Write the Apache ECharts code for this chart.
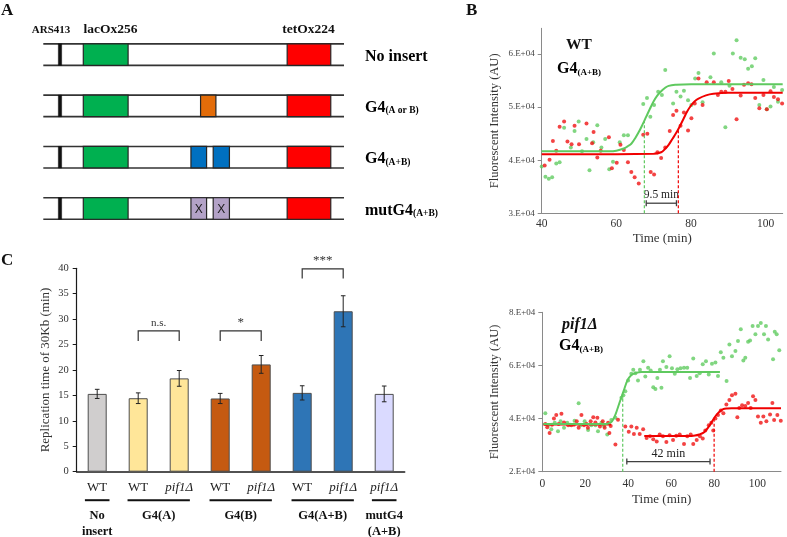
<!DOCTYPE html>
<html>
<head>
<meta charset="utf-8">
<script src="https://cdn.jsdelivr.net/npm/echarts@6.0.0/dist/echarts.min.js"></script>
<style>
html,body{margin:0;padding:0;background:#ffffff;}
#chart{width:787px;height:537px;}
</style>
</head>
<body>
<div id="chart"></div>
<script>
// ================= DATA =================
// Panel A: construct schematic
const constructLabelMain = ['No insert', 'G4', 'G4', 'mutG4'];
const constructLabelSub = ['', '(A or B)', '(A+B)', '(A+B)'];
const constructFeatureNames = ['ARS413', 'lacOx256', 'tetOx224'];
// [row, start (% of line), end (% of line), kind]
const constructElements = [
  [0, 5.0, 6.1, 'ars'], [0, 13.3, 28.2, 'lac'], [0, 81.1, 95.6, 'tet'],
  [1, 5.0, 6.1, 'ars'], [1, 13.3, 28.2, 'lac'], [1, 52.3, 57.4, 'g4'], [1, 81.1, 95.6, 'tet'],
  [2, 5.0, 6.1, 'ars'], [2, 13.3, 28.2, 'lac'], [2, 49.1, 54.3, 'g4ab'], [2, 56.5, 61.9, 'g4ab'], [2, 81.1, 95.6, 'tet'],
  [3, 5.0, 6.1, 'ars'], [3, 13.3, 28.2, 'lac'], [3, 49.1, 54.3, 'mut'], [3, 56.5, 61.9, 'mut'], [3, 81.1, 95.6, 'tet']
];

// Panel C: replication time bars
const barCategories = ['WT', 'WT', 'pif1Δ', 'WT', 'pif1Δ', 'WT', 'pif1Δ', 'pif1Δ'];
const replicationTime = [15.3, 14.45, 18.35, 14.4, 21.1, 15.5, 31.55, 15.3];
const replicationErr = [0.9, 1.05, 1.55, 1.0, 1.75, 1.4, 3.05, 1.55];
// [first bar, last bar, line 1, line 2]
const barGroups = [[0, 0, 'No', 'insert'], [1, 2, 'G4(A)', ''], [3, 4, 'G4(B)', ''], [5, 6, 'G4(A+B)', ''], [7, 7, 'mutG4', '(A+B)']];
// [bar a, bar b, leg bottom, bracket top, label]
const sigTests = [[1, 2, 25.7, 27.7, 'n.s.'], [3, 4, 25.7, 27.7, '*'], [5, 6, 38.0, 39.9, '***']];
const cTicks = [0, 5, 10, 15, 20, 25, 30, 35, 40];

// Panel B (top): WT G4(A+B), time (min) vs fluorescence (AU)
const wtGreenPts = [[40.0,38800],[41.0,36900],[41.9,36500],[42.8,36800],[43.9,39400],[44.8,39600],[46.0,46100],[47.8,42400],[48.8,45500],[49.9,47300],[50.8,41700],[52.0,44000],[52.8,38100],[53.8,43400],[54.9,46600],[56.0,42400],[57.0,44000],[58.1,38300],[59.1,39700],[60.9,43400],[62.0,44700],[63.1,44700],[67.2,50600],[68.2,51700],[69.1,48200],[70.1,50400],[71.2,52900],[72.2,52300],[73.1,57000],[75.2,50700],[76.1,52900],[77.2,52000],[78.1,53100],[79.2,51300],[80.1,50400],[81.1,55400],[82.0,56400],[83.1,50900],[85.2,55600],[86.1,60100],[88.1,54700],[89.2,46200],[90.3,54000],[91.2,60100],[92.2,62600],[93.3,59300],[94.4,59000],[95.3,57200],[96.3,57700],[97.2,59200],[98.3,50400],[99.4,55100],[100.3,49600],[101.3,50100],[102.2,53800],[103.3,51000],[104.4,53200]];
const wtRedPts = [[40.8,39000],[42.1,40100],[43.0,43600],[43.9,41800],[44.8,46300],[46.0,47300],[46.9,43500],[48.0,43000],[48.8,46500],[50.0,43000],[52.0,46900],[53.5,43200],[53.9,45300],[54.9,40500],[55.8,41800],[58.0,44300],[58.8,38500],[60.1,39500],[61.1,42900],[62.0,41900],[63.1,39600],[64.0,37800],[64.9,36800],[66.0,35600],[67.2,44800],[68.3,45000],[69.2,37800],[70.1,37300],[71.0,41500],[72.0,40400],[73.1,42400],[74.3,45500],[75.2,48500],[76.1,49300],[77.2,46500],[78.1,49000],[79.2,45600],[80.1,47900],[81.0,50700],[82.0,55400],[83.1,50400],[84.2,54700],[86.1,54700],[87.2,52300],[88.1,52900],[89.2,52900],[90.1,54900],[91.1,53400],[92.2,47700],[93.3,52200],[94.2,54200],[95.3,54500],[96.2,54300],[97.2,51700],[98.3,49800],[99.4,52300],[100.3,49600],[101.3,53000],[102.2,51900],[103.3,51500],[104.4,50700]];
const wtGreenFit = [[40,41700],[58,41700],[60,41800],[62,42200],[63,42600],[64,43100],[65,44100],[66,45300],[67,46700],[68,48200],[69,49700],[70,51100],[71,52200],[72,53000],[73,53600],[74,54000],[76,54200],[80,54300],[104.56,54300]];
const wtRedFit = [[40,41100],[70,41200],[72,41500],[73,42100],[74,42900],[75,44000],[76,45100],[77,46400],[78,47800],[79,49200],[80,50300],[81,51100],[82,51600],[84,52200],[86,52500],[90,52700],[104.56,52700]];
const wtOnsetTimes = [67.5, 76.6];
const wtOnsetLevels = [47200, 45700];
const wtDelay = [[68.0, 31900, 76.1]];
const wtDelayLabel = '9.5 min';

// Panel B (bottom): pif1Δ G4(A+B)
const pifGreenPts = [[1.4,42000],[2.7,37500],[4.2,36000],[5.8,38400],[7.3,35200],[8.5,39000],[10.1,36500],[11.6,38400],[12.9,37700],[15.0,39200],[16.9,45800],[17.8,37500],[19.7,39000],[21.3,35700],[22.8,37500],[24.7,37500],[25.9,35200],[27.5,38400],[28.7,37200],[30.2,34000],[32.1,39500],[34.0,40300],[36.8,47800],[37.7,48800],[38.6,50300],[39.9,54300],[41.4,56900],[42.3,58400],[43.3,57100],[44.5,54300],[45.4,58400],[47.0,61600],[47.9,55800],[49.2,59100],[50.4,58100],[51.6,51800],[52.6,51100],[53.5,55300],[54.7,58400],[55.4,51600],[56.1,61600],[57.7,59400],[59.2,63500],[60.3,58900],[61.6,56900],[62.8,58600],[64.3,58900],[65.9,59100],[67.4,59100],[68.7,55300],[70.2,62600],[71.8,56000],[73.2,57100],[74.6,60400],[76.1,61600],[77.4,56600],[78.9,60600],[80.5,61100],[81.7,56000],[83.0,65000],[84.2,62900],[85.7,54100],[87.0,67900],[88.2,63500],[89.8,65400],[91.0,69200],[92.3,73600],[93.5,61900],[94.4,62900],[95.7,68900],[96.6,69400],[97.8,74800],[99.1,71700],[100.3,74800],[101.6,76000],[103.1,71700],[104.0,74800],[105.0,69800],[107.3,62300],[108.1,72700],[109.0,71700],[110.2,65700]];
const pifRedPts = [[1.4,38000],[2.3,36700],[3.4,34600],[4.5,37700],[5.4,40000],[6.5,41300],[7.6,38000],[8.9,41800],[10.1,38500],[12.0,37500],[13.5,37500],[14.7,37700],[16.0,39000],[16.9,36500],[18.2,41300],[19.4,37500],[20.6,38000],[21.2,36500],[22.5,39000],[23.7,40500],[24.7,38500],[25.6,40300],[26.8,37000],[28.1,39000],[29.0,36500],[30.6,38400],[31.2,34600],[31.8,37200],[34.0,30200],[35.2,39600],[38.6,37000],[40.2,35000],[41.4,37000],[42.6,34200],[43.9,36500],[45.3,34200],[46.9,36000],[48.5,32700],[50.1,33300],[51.6,32200],[53.2,31400],[54.6,34000],[56.1,33300],[57.7,31200],[59.2,33700],[60.8,31900],[62.3,33500],[63.9,34000],[65.9,30400],[67.4,33300],[69.0,34000],[70.2,30400],[71.8,31900],[73.3,33300],[74.6,32500],[75.8,35500],[77.4,37500],[78.6,38400],[79.5,35500],[80.5,40000],[81.7,41300],[83.0,43000],[84.2,42000],[85.6,45300],[87.0,47000],[88.2,48800],[89.8,49300],[90.7,40500],[91.6,44000],[92.9,45000],[94.4,44700],[95.7,45900],[96.9,44000],[98.0,48400],[99.1,47000],[100.3,40800],[101.6,38400],[102.8,40800],[104.2,39000],[105.9,41500],[107.0,45900],[107.8,39500],[109.3,41300],[110.9,39200]];
const pifGreenFit = [[0.5,38000],[30,38000],[32,38600],[33,39800],[34,41500],[35,43800],[36,46200],[37,48500],[38,50800],[39,53200],[40,55000],[41,56000],[42,56700],[44,57300],[46,57500],[82.6,57500]];
const pifRedFitEarly = [[0.5,37800],[32,37800]];
const pifRedFitLate = [[47.4,33400],[68,33400],[71,33600],[73,34000],[75,34700],[76,35500],[77,36500],[78,37700],[79,39000],[80,40300],[81,41400],[82,42300],[83,43000],[84,43500],[86,43800],[88,43900],[111,43900]];
const pifOnsetTimes = [37.4, 79.9];
const pifOnsetLevels = [49200, 40200];
const pifDelay = [[39.3, 23800, 78.0]];
const pifDelayLabel = '42 min';

// ================= STYLE =================
const SERIF = '"Liberation Serif", "Times New Roman", serif';
const featureColors = { ars: '#111111', lac: '#00b050', tet: '#ff0000', g4: '#e36c09', g4ab: '#0070c0', mut: '#b3a2c7' };
const barColors = ['#d0cece', '#ffe699', '#ffe699', '#c55a11', '#c55a11', '#2e75b6', '#2e75b6', '#dadaff'];
const GREEN_PT = '#62cc62', RED_PT = '#f01414', GREEN_LN = '#5fc95f', RED_LN = '#f00000';
const fmtE = v => Math.round(v / 1e4) + '.E+04';
const subRich = (mainSize, subSize) => ({
  m: { fontFamily: SERIF, fontWeight: 'bold', fontSize: mainSize, color: '#111', lineHeight: 20, verticalAlign: 'bottom' },
  s: { fontFamily: SERIF, fontWeight: 'bold', fontSize: subSize, color: '#111', lineHeight: 8, verticalAlign: 'bottom' }
});

const chart = echarts.init(document.getElementById('chart'), null, { renderer: 'canvas' });

function bracketItem(params, api, label, fontSize) {
  const a = api.coord([api.value(0), api.value(1)]);
  const b = api.coord([api.value(2), api.value(1)]);
  return { type: 'group', children: [
    { type: 'line', shape: { x1: a[0], y1: a[1], x2: b[0], y2: b[1] }, style: { stroke: '#404040', lineWidth: 1.3 } },
    { type: 'line', shape: { x1: a[0], y1: a[1] - 3, x2: a[0], y2: a[1] + 3 }, style: { stroke: '#404040', lineWidth: 1.3 } },
    { type: 'line', shape: { x1: b[0], y1: b[1] - 3, x2: b[0], y2: b[1] + 3 }, style: { stroke: '#404040', lineWidth: 1.3 } },
    { type: 'text', style: { text: label, x: (a[0] + b[0]) / 2, y: a[1] - 2, align: 'center', verticalAlign: 'bottom', font: fontSize + 'px ' + SERIF, fill: '#222' } }
  ] };
}

const bAxisLine = { show: true, lineStyle: { color: '#8a8a8a', width: 1 } };

const option = {
  animation: false,
  backgroundColor: '#ffffff',
  grid: [
    { left: 43.3, top: 28.95, width: 300.7, height: 205.2 },
    { left: 76.7, top: 268.3, width: 328, height: 203.4 },
    { left: 541.7, top: 28.3, width: 241, height: 185 },
    { left: 542.3, top: 312.3, width: 238.7, height: 159.4 }
  ],
  xAxis: [
    { gridIndex: 0, type: 'value', min: 0, max: 100, show: false },
    { gridIndex: 1, type: 'category', data: barCategories,
      axisLine: { show: true, lineStyle: { color: '#1a1a1a', width: 1.5 } },
      axisTick: { show: false },
      axisLabel: { interval: 0, margin: 9, fontFamily: SERIF, fontSize: 13, color: '#222',
        formatter: v => v === 'WT' ? v : '{i|' + v + '}',
        rich: { i: { fontFamily: SERIF, fontSize: 13, fontStyle: 'italic', color: '#222' } } } },
    { gridIndex: 2, type: 'value', min: 40, max: 104.56, interval: 20,
      axisLine: bAxisLine, axisTick: { show: false }, splitLine: { show: false },
      axisLabel: { margin: 5, fontFamily: SERIF, fontSize: 11.5, color: '#333', customValues: [40, 60, 80, 100] },
      name: 'Time (min)', nameLocation: 'middle', nameGap: 19,
      nameTextStyle: { fontFamily: SERIF, fontSize: 13, color: '#333' } },
    { gridIndex: 3, type: 'value', min: 0, max: 111, interval: 20,
      axisLine: bAxisLine, axisTick: { show: false }, splitLine: { show: false },
      axisLabel: { margin: 6, fontFamily: SERIF, fontSize: 11.5, color: '#333', customValues: [0, 20, 40, 60, 80, 100] },
      name: 'Time (min)', nameLocation: 'middle', nameGap: 21,
      nameTextStyle: { fontFamily: SERIF, fontSize: 13, color: '#333' } }
  ],
  yAxis: [
    { gridIndex: 0, type: 'value', min: -0.5, max: 3.5, inverse: true, show: false },
    { gridIndex: 1, type: 'value', min: 0, max: 40, interval: 5,
      axisLine: { show: true, lineStyle: { color: '#1a1a1a', width: 1.2 } },
      axisTick: { show: true, length: 4, lineStyle: { color: '#1a1a1a' } },
      splitLine: { show: false },
      axisLabel: { margin: 8, fontFamily: SERIF, fontSize: 10.5, color: '#333', customValues: cTicks },
      name: 'Replication time of 30Kb (min)', nameLocation: 'middle', nameGap: 25,
      nameTextStyle: { fontFamily: SERIF, fontSize: 13, color: '#333' } },
    { gridIndex: 2, type: 'value', min: 30000, max: 64840, interval: 10000,
      axisLine: bAxisLine, axisTick: { show: true, length: 4, lineStyle: { color: '#8a8a8a' }, customValues: [30000, 40000, 50000, 60000] },
      splitLine: { show: false },
      axisLabel: { margin: 7, fontFamily: SERIF, fontSize: 9, color: '#444', formatter: fmtE, customValues: [30000, 40000, 50000, 60000] },
      name: 'Fluorescent Intensity (AU)', nameLocation: 'middle', nameGap: 40,
      nameTextStyle: { fontFamily: SERIF, fontSize: 12.5, color: '#333' } },
    { gridIndex: 3, type: 'value', min: 20000, max: 80000, interval: 20000,
      axisLine: bAxisLine, axisTick: { show: true, length: 4, lineStyle: { color: '#8a8a8a' } },
      splitLine: { show: false },
      axisLabel: { margin: 7, fontFamily: SERIF, fontSize: 9, color: '#444', formatter: fmtE },
      name: 'Fluorescent Intensity (AU)', nameLocation: 'middle', nameGap: 41,
      nameTextStyle: { fontFamily: SERIF, fontSize: 12.5, color: '#333' } }
  ],
  series: [
    // ---- Panel A rows (chromosome lines + labels)
    { type: 'custom', xAxisIndex: 0, yAxisIndex: 0, clip: false,
      data: constructLabelMain.map((n, i) => [0, i]),
      renderItem: (params, api) => {
        const r = api.value(1);
        const p0 = api.coord([0, r]), p1 = api.coord([100, r]);
        const h = Math.abs(api.size([0, 0.21])[1]);
        const main = constructLabelMain[params.dataIndex], sub = constructLabelSub[params.dataIndex];
        return { type: 'group', children: [
          { type: 'line', shape: { x1: p0[0], y1: p0[1] - h, x2: p1[0], y2: p1[1] - h }, style: { stroke: '#333', lineWidth: 1.6 } },
          { type: 'line', shape: { x1: p0[0], y1: p0[1] + h, x2: p1[0], y2: p1[1] + h }, style: { stroke: '#333', lineWidth: 1.6 } },
          { type: 'text', style: { x: p1[0] + 21, y: p1[1], align: 'left', verticalAlign: 'middle',
            text: sub ? '{m|' + main + '}{s|' + sub + '}' : '{m|' + main + '}',
            rich: subRich(16, 9.5) } }
        ] };
      } },
    // ---- Panel A features
    { type: 'custom', xAxisIndex: 0, yAxisIndex: 0, clip: false,
      data: constructElements.map(e => [e[1], e[0], e[2]]),
      renderItem: (params, api) => {
        const el = constructElements[params.dataIndex];
        const p0 = api.coord([el[1], el[0]]), p1 = api.coord([el[2], el[0]]);
        const h = Math.abs(api.size([0, 0.21])[1]);
        const kind = el[3];
        const rect = { type: 'rect', shape: { x: p0[0], y: p0[1] - h, width: p1[0] - p0[0], height: 2 * h },
          style: { fill: featureColors[kind], stroke: kind === 'ars' ? featureColors[kind] : '#262626', lineWidth: kind === 'ars' ? 0.5 : 1.2 } };
        if (kind === 'mut') {
          return { type: 'group', children: [rect, { type: 'text', style: { text: 'X', x: (p0[0] + p1[0]) / 2, y: p0[1] + 1, align: 'center', verticalAlign: 'middle', font: '12px "Liberation Sans", sans-serif', fill: '#1a1a1a' } }] };
        }
        return rect;
      } },
    // ---- Panel C bars
    { type: 'bar', xAxisIndex: 1, yAxisIndex: 1, barWidth: 19,
      data: replicationTime.map((v, i) => ({ value: v, itemStyle: { color: barColors[i], borderColor: '#4d4d4d', borderWidth: 1 } })) },
    // ---- Panel C error bars
    { type: 'custom', xAxisIndex: 1, yAxisIndex: 1, z: 5,
      data: replicationTime.map((v, i) => [i, v - replicationErr[i], v + replicationErr[i]]),
      renderItem: (params, api) => {
        const lo = api.coord([api.value(0), api.value(1)]), hi = api.coord([api.value(0), api.value(2)]);
        const c = 2.3;
        return { type: 'group', children: [
          { type: 'line', shape: { x1: lo[0], y1: lo[1], x2: hi[0], y2: hi[1] }, style: { stroke: '#222', lineWidth: 1 } },
          { type: 'line', shape: { x1: lo[0] - c, y1: lo[1], x2: lo[0] + c, y2: lo[1] }, style: { stroke: '#222', lineWidth: 1 } },
          { type: 'line', shape: { x1: hi[0] - c, y1: hi[1], x2: hi[0] + c, y2: hi[1] }, style: { stroke: '#222', lineWidth: 1 } }
        ] };
      } },
    // ---- Panel C significance brackets
    { type: 'custom', xAxisIndex: 1, yAxisIndex: 1, clip: false,
      data: sigTests.map(s => [s[0], s[2], s[1], s[3]]),
      renderItem: (params, api) => {
        const a0 = api.coord([api.value(0), api.value(1)]), a1 = api.coord([api.value(0), api.value(3)]);
        const b1 = api.coord([api.value(2), api.value(3)]), b0 = api.coord([api.value(2), api.value(1)]);
        const lab = sigTests[params.dataIndex][4];
        return { type: 'group', children: [
          { type: 'polyline', shape: { points: [a0, a1, b1, b0] }, style: { stroke: '#333', lineWidth: 1.2, fill: null } },
          { type: 'text', style: { text: lab, x: (a1[0] + b1[0]) / 2, y: a1[1] - 2, align: 'center', verticalAlign: 'bottom',
            font: (lab === 'n.s.' ? '11px ' : '13px ') + SERIF, fill: '#333' } }
        ] };
      } },
    // ---- Panel C group underlines & labels
    { type: 'custom', xAxisIndex: 1, yAxisIndex: 1, clip: false,
      data: barGroups.map(g => [g[0], 0, g[1]]),
      renderItem: (params, api) => {
        const g = barGroups[params.dataIndex];
        const a = api.coord([api.value(0), 0]), b = api.coord([api.value(2), 0]);
        const band = api.size([1, 0])[0];
        const half = g[0] === g[1] ? 0.3 * band : 0.26 * band;
        const y0 = a[1];
        const cx = (a[0] + b[0]) / 2;
        const kids = [
          { type: 'line', shape: { x1: a[0] - half, y1: y0 + 28.5, x2: b[0] + half, y2: y0 + 28.5 }, style: { stroke: '#111', lineWidth: 2 } },
          { type: 'text', style: { text: g[2], x: cx, y: y0 + 44.5, align: 'center', verticalAlign: 'middle', font: 'bold 12.5px ' + SERIF, fill: '#111' } }
        ];
        if (g[3]) kids.push({ type: 'text', style: { text: g[3], x: cx, y: y0 + 60, align: 'center', verticalAlign: 'middle', font: 'bold 12.5px ' + SERIF, fill: '#111' } });
        return { type: 'group', children: kids };
      } },
    // ---- Panel B top
    { type: 'scatter', xAxisIndex: 2, yAxisIndex: 2, symbolSize: 4, itemStyle: { color: GREEN_PT }, data: wtGreenPts },
    { type: 'scatter', xAxisIndex: 2, yAxisIndex: 2, symbolSize: 4, itemStyle: { color: RED_PT }, data: wtRedPts },
    { type: 'line', xAxisIndex: 2, yAxisIndex: 2, smooth: 0.4, showSymbol: false, lineStyle: { color: GREEN_LN, width: 2 }, data: wtGreenFit },
    { type: 'line', xAxisIndex: 2, yAxisIndex: 2, smooth: 0.4, showSymbol: false, lineStyle: { color: RED_LN, width: 2 }, data: wtRedFit },
    { type: 'line', xAxisIndex: 2, yAxisIndex: 2, showSymbol: false, lineStyle: { color: GREEN_LN, width: 1.2, type: [3, 2] }, data: [[wtOnsetTimes[0], 30000], [wtOnsetTimes[0], wtOnsetLevels[0]]] },
    { type: 'line', xAxisIndex: 2, yAxisIndex: 2, showSymbol: false, lineStyle: { color: RED_LN, width: 1.2, type: [3, 2] }, data: [[wtOnsetTimes[1], 30000], [wtOnsetTimes[1], wtOnsetLevels[1]]] },
    { type: 'custom', xAxisIndex: 2, yAxisIndex: 2, clip: false, data: wtDelay,
      renderItem: (params, api) => bracketItem(params, api, wtDelayLabel, 11.5) },
    // ---- Panel B bottom
    { type: 'scatter', xAxisIndex: 3, yAxisIndex: 3, symbolSize: 4, itemStyle: { color: GREEN_PT }, data: pifGreenPts },
    { type: 'scatter', xAxisIndex: 3, yAxisIndex: 3, symbolSize: 4, itemStyle: { color: RED_PT }, data: pifRedPts },
    { type: 'line', xAxisIndex: 3, yAxisIndex: 3, smooth: false, showSymbol: false, lineStyle: { color: RED_LN, width: 2 }, data: pifRedFitEarly },
    { type: 'line', xAxisIndex: 3, yAxisIndex: 3, smooth: 0.4, showSymbol: false, lineStyle: { color: GREEN_LN, width: 2 }, data: pifGreenFit },
    { type: 'line', xAxisIndex: 3, yAxisIndex: 3, smooth: 0.4, showSymbol: false, lineStyle: { color: RED_LN, width: 2 }, data: pifRedFitLate },
    { type: 'line', xAxisIndex: 3, yAxisIndex: 3, showSymbol: false, lineStyle: { color: GREEN_LN, width: 1.2, type: [3, 2] }, data: [[pifOnsetTimes[0], 20000], [pifOnsetTimes[0], pifOnsetLevels[0]]] },
    { type: 'line', xAxisIndex: 3, yAxisIndex: 3, showSymbol: false, lineStyle: { color: RED_LN, width: 1.2, type: [3, 2] }, data: [[pifOnsetTimes[1], 20000], [pifOnsetTimes[1], pifOnsetLevels[1]]] },
    { type: 'custom', xAxisIndex: 3, yAxisIndex: 3, clip: false, data: pifDelay,
      renderItem: (params, api) => bracketItem(params, api, pifDelayLabel, 12) }
  ],
  graphic: [
    { type: 'text', left: 1, top: 2, style: { text: 'A', font: 'bold 17px ' + SERIF, fill: '#111' } },
    { type: 'text', left: 466, top: 2, style: { text: 'B', font: 'bold 17px ' + SERIF, fill: '#111' } },
    { type: 'text', left: 1, top: 252, style: { text: 'C', font: 'bold 17px ' + SERIF, fill: '#111' } },
    { type: 'text', x: 51, y: 30, style: { text: constructFeatureNames[0], align: 'center', verticalAlign: 'middle', font: 'bold 11px ' + SERIF, fill: '#111' } },
    { type: 'text', x: 110.5, y: 30, style: { text: constructFeatureNames[1], align: 'center', verticalAlign: 'middle', font: 'bold 13.5px ' + SERIF, fill: '#111' } },
    { type: 'text', x: 308.5, y: 30, style: { text: constructFeatureNames[2], align: 'center', verticalAlign: 'middle', font: 'bold 13.5px ' + SERIF, fill: '#111' } },
    { type: 'text', x: 579, y: 45, style: { text: 'WT', align: 'center', verticalAlign: 'middle', font: 'bold 15.5px ' + SERIF, fill: '#111' } },
    { type: 'text', x: 579, y: 67, style: { text: '{m|G4}{s|(A+B)}', align: 'center', verticalAlign: 'middle', rich: subRich(16, 9) } },
    { type: 'text', x: 580, y: 325, style: { text: 'pif1Δ', align: 'center', verticalAlign: 'middle', font: 'italic bold 16px ' + SERIF, fill: '#111' } },
    { type: 'text', x: 581, y: 344, style: { text: '{m|G4}{s|(A+B)}', align: 'center', verticalAlign: 'middle', rich: subRich(16, 9) } }
  ]
};
chart.setOption(option);
</script>
</body>
</html>
